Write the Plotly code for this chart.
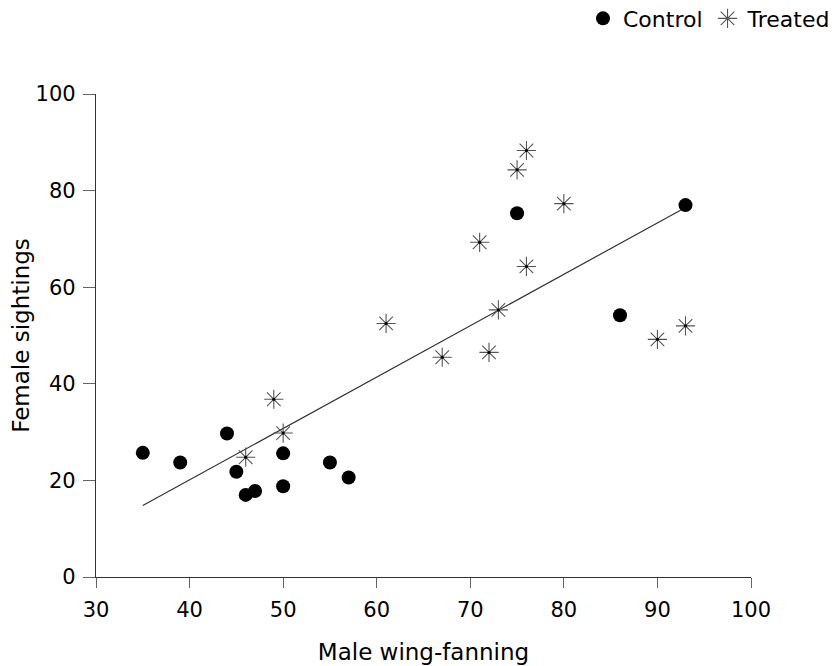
import plotly.graph_objects as go

# Control group
control_x = [35, 39, 44, 45, 46, 47, 50, 50, 55, 57, 75, 86, 93]
control_y = [25.7, 23.7, 29.7, 21.8, 17.0, 17.8, 25.6, 18.8, 23.7, 20.6, 75.3, 54.2, 77.0]

# Treated group
treated_x = [46, 49, 50, 61, 67, 71, 72, 73, 75, 76, 76, 80, 90, 93]
treated_y = [24.8, 36.8, 29.8, 52.5, 45.5, 69.3, 46.5, 55.3, 84.3, 88.3, 64.3, 77.3, 49.2, 52.0]

# Regression line endpoints
fit_x = [35, 93]
fit_y = [14.8, 76.5]

x_ticks = [30, 40, 50, 60, 70, 80, 90, 100]
y_ticks = [0, 20, 40, 60, 80, 100]

FONT = "DejaVu Sans, Liberation Sans, Arial, sans-serif"

fig = go.Figure()
fig.add_trace(go.Scatter(
    x=fit_x, y=fit_y, mode="lines",
    line=dict(color="#333333", width=1.2),
    showlegend=False, hoverinfo="skip",
))
fig.add_trace(go.Scatter(
    x=control_x, y=control_y, mode="markers", name="Control",
    marker=dict(symbol="circle", size=14, color="black"),
))
fig.add_trace(go.Scatter(
    x=treated_x, y=treated_y, mode="markers", name="Treated",
    marker=dict(symbol="asterisk-open", size=16, color="#555555",
                line=dict(color="#555555", width=1.1)),
))
# small dark centre of each asterisk
fig.add_trace(go.Scatter(
    x=treated_x, y=treated_y, mode="markers",
    marker=dict(symbol="circle", size=3, color="black"),
    showlegend=False, hoverinfo="skip",
))

fig.update_layout(
    width=828, height=658,
    margin=dict(l=88, r=85, t=86, b=89),
    paper_bgcolor="white", plot_bgcolor="white",
    font=dict(family=FONT, size=21, color="black"),
    legend=dict(
        orientation="h",
        xref="container", yref="container",
        x=1.0, xanchor="right", y=0.984, yanchor="middle",
        font=dict(size=22),
        itemwidth=30,
        bgcolor="rgba(0,0,0,0)",
    ),
    xaxis=dict(
        range=[30, 100], tickvals=x_ticks,
        showgrid=False, zeroline=False, automargin=False,
        showline=True, linecolor="#333333", linewidth=1.2,
        ticks="outside", ticklen=10, tickcolor="#666666", tickwidth=1,
        ticklabelstandoff=4,
        tickfont=dict(size=21),
        title=dict(text="Male wing-fanning", font=dict(size=23), standoff=22),
    ),
    yaxis=dict(
        range=[0, 100], tickvals=y_ticks,
        showgrid=False, zeroline=False, automargin=False,
        showline=True, linecolor="#333333", linewidth=1.2,
        ticks="outside", ticklen=12, tickcolor="#666666", tickwidth=1,
        ticklabelstandoff=3,
        tickfont=dict(size=21),
        title=dict(text="Female sightings", font=dict(size=23), standoff=16),
    ),
)

fig.write_html("out.html")
